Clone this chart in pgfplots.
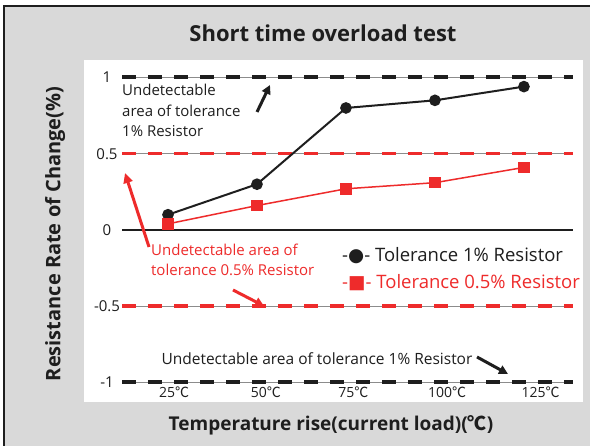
\documentclass[border=0pt]{standalone}
\usepackage{fontspec}
\setmainfont{Open Sans}
\newfontfamily\cjk{Noto Sans CJK KR}
\newfontfamily\symf{DejaVu Sans}
\usepackage{pgfplots}
\pgfplotsset{compat=1.18}
\usetikzlibrary{arrows.meta}
\definecolor{bg}{HTML}{D9D9D9}
\definecolor{rd}{HTML}{EE2B2B}
\definecolor{bk}{HTML}{1E1E1E}
\definecolor{gl}{HTML}{8C8C8C}
\newcommand\dc{{\cjk ℃}}
\begin{document}
\begin{tikzpicture}[x=1pt,y=1pt]
\useasboundingbox (0,0) rectangle (591,446);
\fill[bg] (4,0) rectangle (590,440);
\draw[bk,line width=1.5pt] (4,0) -- (4,440) -- (590,440);
\fill[white] (84,44) rectangle (583,386);
\node[font=\fontsize{22}{26}\selectfont\bfseries, text=bk] at (323,413) {Short time overload test};
\node[rotate=90, font=\fontsize{20}{24}\selectfont\bfseries, text=bk] at (55,212) {Resistance Rate of Change(\%)};
\node[font=\fontsize{19}{22}\selectfont\bfseries, text=bk] at (331,21) {Temperature rise(current load)(\dc)};
\begin{axis}[at={(84pt,46pt)}, anchor=south west, scale only axis,
  width=499pt, height=339pt,
  xmin=1.4, xmax=141.6, ymin=-1.115, ymax=1.108,
  axis line style={draw=none}, major tick length=0pt,
  ytick={-1,-0.5,0,0.5,1}, yticklabels={-1,-0.5,0,0.5,1},
  yticklabel style={anchor=center, xshift=23pt, font=\fontsize{15}{17}\selectfont, text=bk},
  xtick={26.7,52.5,77.1,103.4,129.7},
  xticklabels={25\dc,50\dc,75\dc,100\dc,125\dc},
  xticklabel style={anchor=center, yshift=8pt, font=\fontsize{14}{16}\selectfont, text=bk},
  clip=false]
\addplot[gl, line width=1pt] coordinates {(12.1,1) (137.6,1)};
\addplot[bk, line width=4pt, dash pattern=on 14pt off 12pt] coordinates {(12.1,1) (138.8,1)};
\addplot[gl, line width=1pt] coordinates {(12.1,-1) (137.6,-1)};
\addplot[bk, line width=4pt, dash pattern=on 14pt off 12pt] coordinates {(12.1,-1) (138.8,-1)};
\addplot[gl, line width=1pt] coordinates {(12.1,0.5) (137.6,0.5)};
\addplot[rd, line width=3.5pt, dash pattern=on 14pt off 12pt] coordinates {(12.1,0.5) (138.8,0.5)};
\addplot[gl, line width=1pt] coordinates {(12.1,-0.5) (137.6,-0.5)};
\addplot[rd, line width=3.5pt, dash pattern=on 14pt off 12pt] coordinates {(12.1,-0.5) (138.8,-0.5)};
\addplot[bk, line width=2.5pt] coordinates {(12.1,0) (138.8,0)};
\addplot[bk, line width=2pt, mark=*, mark size=4.8pt, mark options={fill=bk}] coordinates {(25,0.10) (50,0.30) (75,0.80) (100,0.85) (125,0.94)};
\addplot[rd, line width=1.5pt, mark=square*, mark size=5pt, mark options={fill=rd}] coordinates {(25,0.04) (50,0.16) (75,0.27) (100,0.31) (125,0.41)};
\end{axis}
\node[anchor=north west, align=left, inner sep=0pt, font=\fontsize{15}{20.5}\selectfont, text=bk] at (122,362) {Undetectable\\area of tolerance\\1\% Resistor};
\node[anchor=north west, align=left, inner sep=0pt, font=\fontsize{15}{20}\selectfont, text=rd] at (151,202) {Undetectable area of\\tolerance 0.5\% Resistor};
\node[font=\fontsize{15.5}{18}\selectfont, text=bk] at (317,87) {Undetectable area of tolerance 1\% Resistor};
\node[anchor=west, inner sep=0pt, font=\fontsize{18.5}{20}\selectfont, text=bk] at (342,190) {-{\symf●}- Tolerance 1\% Resistor};
\node[anchor=west, inner sep=0pt, font=\fontsize{18.5}{20}\selectfont, text=rd] at (342,163) {-{\symf■}- Tolerance 0.5\% Resistor};
\draw[bk, line width=3pt, -{Triangle[length=9pt,width=9pt]}] (257,334) -- (270,361);
\draw[rd, line width=3pt, -{Triangle[length=10pt,width=9pt]}] (149,199) -- (125,273);
\draw[rd, line width=3pt, -{Triangle[length=9pt,width=9pt]}] (233,156) -- (264,140);
\draw[bk, line width=3pt, -{Triangle[length=9pt,width=9pt]}] (477,89) -- (508,72);
\end{tikzpicture}
\end{document}
